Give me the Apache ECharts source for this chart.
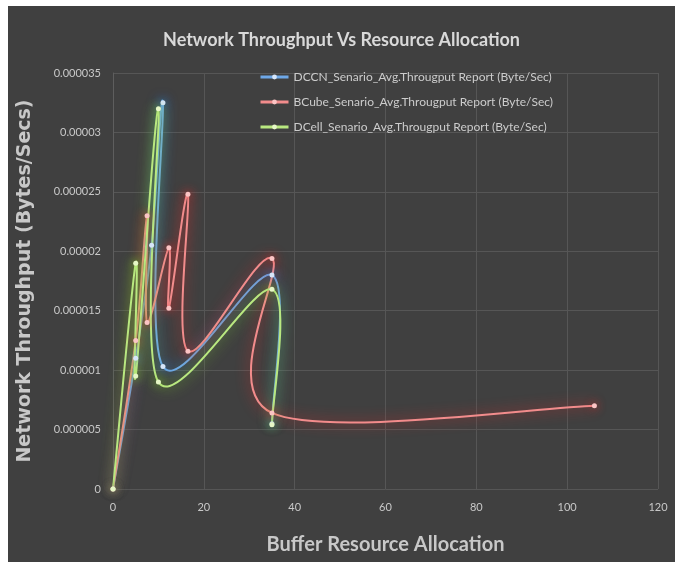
<!DOCTYPE html>
<html>
<head>
<meta charset="utf-8">
<script src="https://cdn.jsdelivr.net/npm/echarts@6/dist/echarts.min.js"></script>
<style>
  html, body { margin: 0; padding: 0; background: #ffffff; width: 675px; height: 562px; overflow: hidden; }
  #chart { position: absolute; left: 8px; top: 6px; width: 667px; height: 556px; }
</style>
</head>
<body>
<div id="chart"></div>
<script>
// Buffer allocation (x) and average throughput (y) for each network scenario
const seriesNames = [
  'DCCN_Senario_Avg.Througput Report (Byte/Sec)',
  'BCube_Senario_Avg.Througput Report (Byte/Sec)',
  'DCell_Senario_Avg.Througput Report (Byte/Sec)'
];

const dccnX = [0, 5, 8.5, 11, 11, 35, 35];
const dccnY = [0, 0.000011, 0.0000205, 0.0000325, 0.0000103, 0.000018, 0.0000055];

const bcubeX = [0, 5, 7.5, 7.5, 12.3, 12.3, 16.5, 16.5, 35, 35, 106];
const bcubeY = [0, 0.0000125, 0.000023, 0.000014, 0.0000203, 0.0000152, 0.0000248, 0.0000116, 0.0000194, 0.0000064, 0.000007];

const dcellX = [0, 5, 5, 10, 10, 35, 35];
const dcellY = [0, 0.000019, 0.0000095, 0.000032, 0.000009, 0.0000168, 0.0000054];

const xTickLabels = ['0', '20', '40', '60', '80', '100', '120'];
const yTickLabels = ['0', '0.000005', '0.00001', '0.000015', '0.00002', '0.000025', '0.00003', '0.000035'];

function pairs(xs, ys) {
  return xs.map((x, i) => [x, ys[i]]);
}

const styles = [
  { line: '#6ea8e8', glow: '#2f7fe0', dot: '#d6e6fa' },
  { line: '#f28c8c', glow: '#e02a2a', dot: '#fbc4c4' },
  { line: '#b9e880', glow: '#7fd12a', dot: '#e6f7c6' }
];

// Catmull-Rom style curve through every data point, built in pixel space
// from the axis scales so that it may swing past its neighbours.
function curvePath(pts) {
  let d = 'M' + pts[0][0] + ' ' + pts[0][1];
  for (let i = 0; i < pts.length - 1; i++) {
    const p0 = pts[Math.max(i - 1, 0)];
    const p1 = pts[i];
    const p2 = pts[i + 1];
    const p3 = pts[Math.min(i + 2, pts.length - 1)];
    const c1x = p1[0] + (p2[0] - p0[0]) / 6;
    const c1y = p1[1] + (p2[1] - p0[1]) / 6;
    const c2x = p2[0] - (p3[0] - p1[0]) / 6;
    const c2y = p2[1] - (p3[1] - p1[1]) / 6;
    d += ' C' + c1x + ' ' + c1y + ' ' + c2x + ' ' + c2y + ' ' + p2[0] + ' ' + p2[1];
  }
  return d;
}

function markerSeries(name, xs, ys, st) {
  return {
    name: name,
    type: 'line',
    data: pairs(xs, ys),
    symbol: 'circle',
    symbolSize: 5,
    z: 4,
    lineStyle: { color: st.line, width: 2, opacity: 0 },
    itemStyle: { color: st.dot, borderWidth: 0, shadowColor: st.glow, shadowBlur: 8 },
    emphasis: { disabled: true },
    animation: false
  };
}

function curveSeries(name, xs, ys, st) {
  return {
    name: name,
    type: 'custom',
    coordinateSystem: 'cartesian2d',
    data: pairs(xs, ys),
    encode: { x: 0, y: 1 },
    z: 3,
    silent: true,
    animation: false,
    renderItem: function (params, api) {
      if (params.dataIndex !== 0) return null;
      const pts = xs.map((x, i) => api.coord([x, ys[i]]));
      return {
        type: 'path',
        shape: { pathData: curvePath(pts) },
        style: {
          fill: null,
          stroke: st.line,
          lineWidth: 2,
          shadowColor: st.glow,
          shadowBlur: 13
        }
      };
    }
  };
}

const chart = echarts.init(document.getElementById('chart'), null, { renderer: 'canvas' });

chart.setOption({
  backgroundColor: '#404040',
  animation: false,
  title: {
    text: 'Network Throughput Vs Resource Allocation',
    left: 'center',
    top: 20,
    textStyle: { color: '#d9d9d9', fontFamily: 'Lato', fontWeight: 'bold', fontSize: 18 }
  },
  legend: {
    orient: 'vertical',
    left: 246,
    top: 60,
    itemWidth: 28,
    itemHeight: 6,
    itemGap: 13,
    textStyle: { color: '#cccccc', fontFamily: 'Lato', fontSize: 12 },
    data: seriesNames.map((n, i) => ({
      name: n,
      itemStyle: { color: styles[i].dot },
      lineStyle: { color: styles[i].line, width: 3, opacity: 1, shadowBlur: 0 }
    }))
  },
  grid: { left: 104, right: 17, top: 67, bottom: 73 },
  xAxis: {
    type: 'value',
    min: 0,
    max: 120,
    interval: 20,
    name: 'Buffer Resource Allocation',
    nameLocation: 'middle',
    nameGap: 46,
    nameTextStyle: { color: '#c8c8c8', fontFamily: 'Lato', fontWeight: 'bold', fontSize: 20 },
    axisLine: { show: false },
    axisTick: { show: false },
    axisLabel: {
      color: '#c8c8c8', fontFamily: 'Lato', fontSize: 11, margin: 13,
      formatter: (v) => xTickLabels[Math.round(v / 20)]
    },
    splitLine: { show: true, lineStyle: { color: '#565656', width: 1 } }
  },
  yAxis: {
    type: 'value',
    min: 0,
    max: 0.000035,
    interval: 0.000005,
    name: 'Network Throughput (Bytes/Secs)',
    nameLocation: 'middle',
    nameGap: 78,
    nameTextStyle: { color: '#c8c8c8', fontFamily: 'DejaVu Sans', fontWeight: 'bold', fontSize: 19 },
    axisLine: { show: true, lineStyle: { color: '#5e5e5e' } },
    axisTick: { show: false },
    axisLabel: {
      color: '#c8c8c8', fontFamily: 'Lato', fontSize: 11, margin: 12,
      formatter: (v) => yTickLabels[Math.round(v / 0.000005)]
    },
    splitLine: { show: true, lineStyle: { color: '#565656', width: 1 } }
  },
  series: [
    markerSeries(seriesNames[0], dccnX, dccnY, styles[0]),
    markerSeries(seriesNames[1], bcubeX, bcubeY, styles[1]),
    markerSeries(seriesNames[2], dcellX, dcellY, styles[2]),
    curveSeries(seriesNames[0], dccnX, dccnY, styles[0]),
    curveSeries(seriesNames[1], bcubeX, bcubeY, styles[1]),
    curveSeries(seriesNames[2], dcellX, dcellY, styles[2])
  ]
});
</script>
</body>
</html>
